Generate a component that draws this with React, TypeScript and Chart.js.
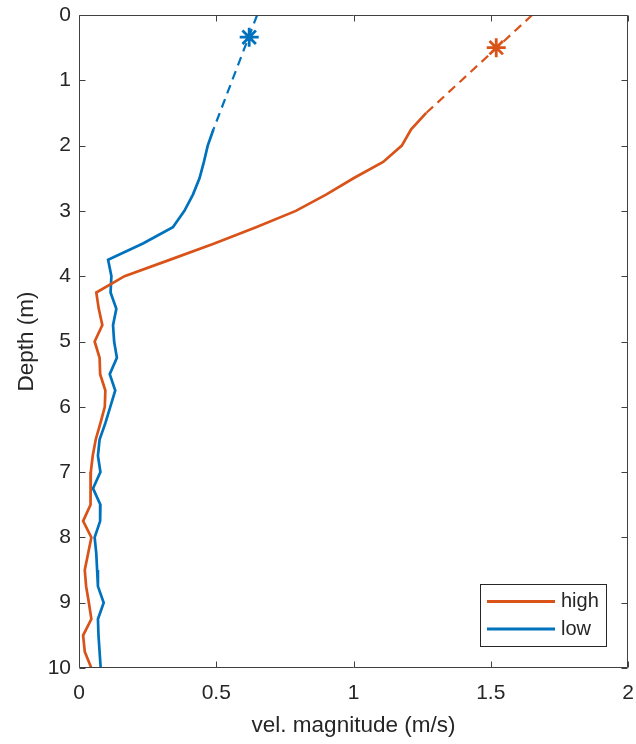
import React, { useEffect, useRef } from "react";
import { Chart, registerables } from "chart.js";

Chart.register(...registerables);

// ---- data ----
const depthHigh = [1.5, 1.75, 2, 2.25, 2.5, 2.75, 3, 3.25, 3.5, 3.75, 4, 4.25, 4.5, 4.75, 5, 5.25, 5.5, 5.75, 6, 6.25, 6.5, 6.75, 7, 7.25, 7.5, 7.75, 8, 8.25, 8.5, 8.75, 9, 9.25, 9.5, 9.75, 10];
const velHigh = [1.265, 1.21, 1.176, 1.108, 1.0, 0.9, 0.79, 0.645, 0.493, 0.33, 0.166, 0.063, 0.072, 0.085, 0.057, 0.075, 0.077, 0.096, 0.094, 0.078, 0.061, 0.05, 0.043, 0.043, 0.041, 0.015, 0.045, 0.033, 0.021, 0.026, 0.036, 0.045, 0.015, 0.021, 0.045];

const depthLow = [1.75, 2, 2.25, 2.5, 2.75, 3, 3.25, 3.5, 3.75, 4, 4.25, 4.5, 4.75, 5, 5.25, 5.5, 5.75, 6, 6.25, 6.5, 6.75, 7, 7.25, 7.5, 7.75, 8, 8.25, 8.5, 8.75, 9, 9.25, 9.5, 9.75, 10];
const velLow = [0.49, 0.469, 0.455, 0.439, 0.415, 0.384, 0.342, 0.233, 0.106, 0.118, 0.115, 0.136, 0.124, 0.128, 0.138, 0.112, 0.132, 0.114, 0.096, 0.075, 0.069, 0.078, 0.051, 0.078, 0.077, 0.057, 0.063, 0.066, 0.069, 0.09, 0.069, 0.071, 0.075, 0.079];

const extrapDepthHigh = [0, 1.5];
const extrapVelHigh = [1.651, 1.265];
const extrapDepthLow = [0, 1.75];
const extrapVelLow = [0.649, 0.49];

const starDepth = [0.5, 0.34];
const starVel = [1.52, 0.62];

const seriesNames = ["high", "low"];
const seriesColors = ["#D95319", "#0072BD"];
const xTickValues = [0, 0.5, 1, 1.5, 2];
const xTickLabels = ["0", "0.5", "1", "1.5", "2"];
const yTickValues = [0, 1, 2, 3, 4, 5, 6, 7, 8, 9, 10];
const xTitle = "vel. magnitude (m/s)";
const yTitle = "Depth (m)";

const FONT = "'Liberation Sans', Arial, Helvetica, sans-serif";
const AXIS_COLOR = "#262626";

const toPts = (xs: number[], ys: number[]) => xs.map((x, i) => ({ x, y: ys[i] }));

const boxAndTicks = {
  id: "boxAndTicks",
  afterDraw(chart: any) {
    const { ctx, chartArea: a, scales } = chart;
    const xs = scales.x;
    const ys = scales.y;
    const L = Math.round(a.left) + 0.5;
    const R = Math.round(a.right) - 0.5;
    const T = Math.round(a.top) + 0.5;
    const B = Math.round(a.bottom) - 0.5;
    ctx.save();
    ctx.strokeStyle = "#404040";
    ctx.lineWidth = 1;
    ctx.beginPath();
    ctx.rect(L, T, R - L, B - T);
    const tl = 6;
    xTickValues.forEach((v) => {
      const p = Math.round(xs.getPixelForValue(v)) + 0.5;
      ctx.moveTo(p, B);
      ctx.lineTo(p, B - tl);
      ctx.moveTo(p, T);
      ctx.lineTo(p, T + tl);
    });
    yTickValues.forEach((v) => {
      const p = Math.round(ys.getPixelForValue(v)) + 0.5;
      ctx.moveTo(L, p);
      ctx.lineTo(L + tl, p);
      ctx.moveTo(R, p);
      ctx.lineTo(R - tl, p);
    });
    ctx.stroke();

    // x tick labels
    ctx.fillStyle = AXIS_COLOR;
    ctx.font = `21px ${FONT}`;
    ctx.textAlign = "center";
    ctx.textBaseline = "middle";
    xTickValues.forEach((v, i) => {
      ctx.fillText(xTickLabels[i], xs.getPixelForValue(v), a.bottom + 25);
    });

    // legend (inside, bottom right)
    const bx = 480.5, by = 584.5, bw = 126, bh = 62;
    ctx.fillStyle = "#ffffff";
    ctx.fillRect(bx, by, bw, bh);
    ctx.strokeStyle = AXIS_COLOR;
    ctx.strokeRect(bx, by, bw, bh);
    ctx.font = `20px ${FONT}`;
    ctx.textBaseline = "middle";
    ctx.textAlign = "left";
    seriesNames.forEach((name, i) => {
      const y = 601.5 + i * 27.5;
      ctx.strokeStyle = seriesColors[i];
      ctx.lineWidth = 3;
      ctx.beginPath();
      ctx.moveTo(487, y);
      ctx.lineTo(555, y);
      ctx.stroke();
      ctx.fillStyle = AXIS_COLOR;
      ctx.fillText(name, 561, y);
    });
    ctx.restore();
  },
};

export default function App() {
  const ref = useRef<HTMLCanvasElement | null>(null);
  useEffect(() => {
    if (!ref.current) return;
    const lw = 2.7;
    const chart = new Chart(ref.current, {
      type: "scatter",
      data: {
        datasets: [
          {
            label: seriesNames[0],
            data: toPts(velHigh, depthHigh),
            showLine: true,
            borderColor: seriesColors[0],
            backgroundColor: seriesColors[0],
            borderWidth: lw,
            pointRadius: 0,
          },
          {
            label: seriesNames[1],
            data: toPts(velLow, depthLow),
            showLine: true,
            borderColor: seriesColors[1],
            backgroundColor: seriesColors[1],
            borderWidth: lw,
            pointRadius: 0,
          },
          {
            label: "high extrap",
            data: toPts(extrapVelHigh, extrapDepthHigh),
            showLine: true,
            borderColor: seriesColors[0],
            borderWidth: 2.2,
            borderDash: [9, 6],
            pointRadius: 0,
          },
          {
            label: "low extrap",
            data: toPts(extrapVelLow, extrapDepthLow),
            showLine: true,
            borderColor: seriesColors[1],
            borderWidth: 2.2,
            borderDash: [9, 6],
            pointRadius: 0,
          },
          {
            label: "high surface",
            data: [{ x: starVel[0], y: starDepth[0] }],
            pointStyle: "star",
            pointRadius: 9.5,
            borderWidth: 2.8,
            borderColor: seriesColors[0],
            backgroundColor: seriesColors[0],
          },
          {
            label: "low surface",
            data: [{ x: starVel[1], y: starDepth[1] }],
            pointStyle: "star",
            pointRadius: 9.5,
            borderWidth: 2.8,
            borderColor: seriesColors[1],
            backgroundColor: seriesColors[1],
          },
        ],
      },
      options: {
        responsive: false,
        animation: false,
        events: [],
        layout: { autoPadding: false, padding: { top: 15, right: 8, left: 0, bottom: 0 } },
        plugins: {
          legend: { display: false },
          tooltip: { enabled: false },
        },
        scales: {
          x: {
            type: "linear",
            position: "bottom",
            min: 0,
            max: 2,
            grid: { display: false, drawTicks: false },
            border: { display: false },
            ticks: {
              display: false,
              stepSize: 0.5,
            },
            title: {
              display: true,
              text: xTitle,
              color: AXIS_COLOR,
              font: { family: FONT, size: 22.5 },
              padding: { top: 0, bottom: 5 },
            },
            afterFit: (s: any) => {
              s.height = 76;
              s.paddingLeft = 0;
              s.paddingRight = 0;
            },
          },
          y: {
            type: "linear",
            position: "left",
            reverse: true,
            min: 0,
            max: 10,
            grid: { display: false, drawTicks: false },
            border: { display: false },
            ticks: {
              stepSize: 1,
              color: AXIS_COLOR,
              font: { family: FONT, size: 21 },
              padding: 8,
              callback: (v: any) => String(v),
            },
            title: {
              display: true,
              text: yTitle,
              color: AXIS_COLOR,
              font: { family: FONT, size: 22.5 },
              padding: { top: 13, bottom: 0 },
            },
            afterFit: (s: any) => {
              s.width = 79;
              s.paddingTop = 0;
              s.paddingBottom = 0;
            },
          },
        },
      },
      plugins: [boxAndTicks],
    } as any);
    return () => chart.destroy();
  }, []);

  return (
    <div style={{ position: "absolute", left: 0, top: 0, width: 636, height: 744, background: "#fff" }}>
      <canvas ref={ref} width={636} height={744} style={{ display: "block" }} />
    </div>
  );
}
